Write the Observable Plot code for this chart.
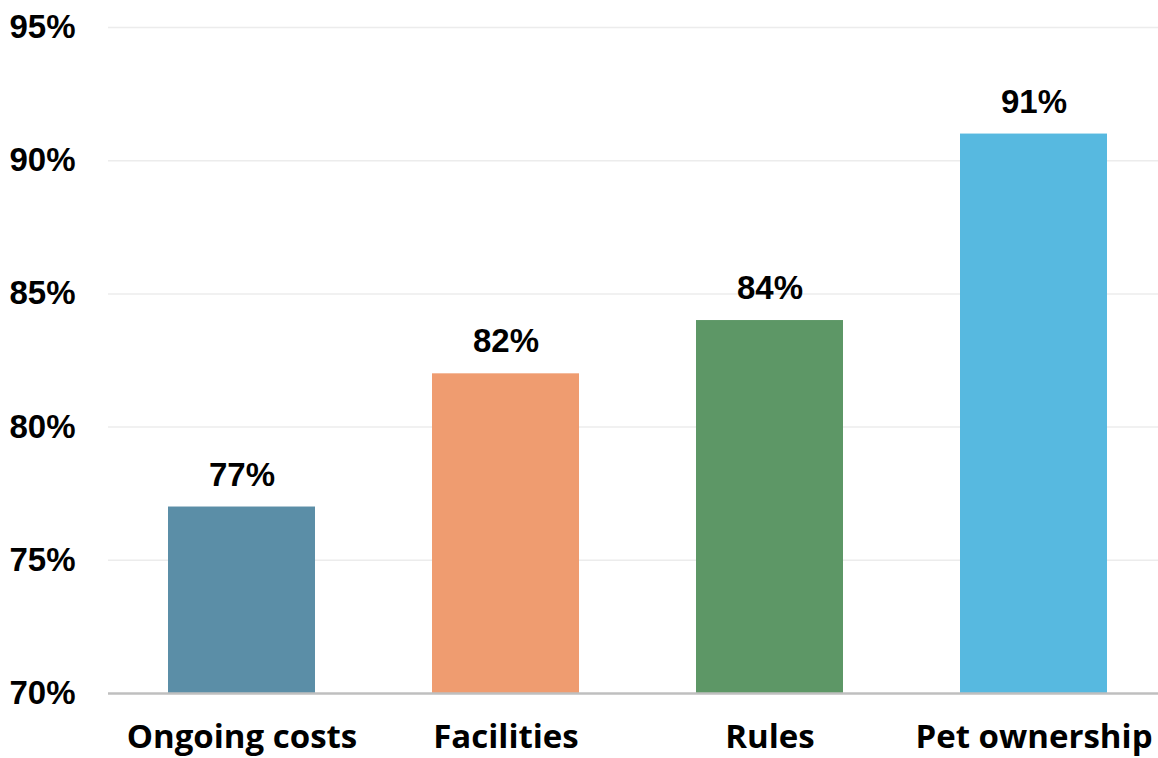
<!DOCTYPE html>
<html>
<head>
<meta charset="utf-8">
<script src="https://cdn.jsdelivr.net/npm/d3@7"></script>
<script src="https://cdn.jsdelivr.net/npm/@observablehq/plot@0.6"></script>
<style>
  html, body { margin: 0; padding: 0; background: #fff; }
  #chart svg { display: block; }
</style>
</head>
<body>
<div id="chart"></div>
<script>
const categories = ["Ongoing costs", "Facilities", "Rules", "Pet ownership"];
const values = [77, 82, 84, 91];
const colors = ["#5b8ea7", "#ef9c70", "#5d9766", "#57b9e0"];
const yTicks = [70, 75, 80, 85, 90, 95];

const data = categories.map((c, i) => ({category: c, value: values[i], color: colors[i]}));

const chart = Plot.plot({
  width: 1158,
  height: 758,
  marginLeft: 108,
  marginRight: 0,
  marginTop: 27,
  marginBottom: 65,
  style: {fontFamily: "Liberation Sans, Arial, sans-serif", fontWeight: "bold", fontSize: "33px", color: "#000", background: "#fff"},
  x: {domain: categories, range: [108, 1166], paddingInner: 0.444, paddingOuter: 0.222, label: null},
  y: {domain: [70, 95], label: null},
  marks: [
    Plot.ruleY(yTicks.filter(d => d > 70), {stroke: "#ececec", strokeWidth: 1.5}),
    Plot.barY(data, {x: "category", y1: 70, y2: "value", fill: "color"}),
    Plot.ruleY([70], {stroke: "#bfbfbf", strokeWidth: 2.5}),
    Plot.text(data, {x: "category", y: "value", text: d => d.value + "%", dy: -32, fontSize: 33, fontWeight: "bold", fill: "#000"}),
    Plot.axisY({ticks: yTicks, tickFormat: d => d + "%", tickSize: 0, tickPadding: 33, fontSize: 33, fontWeight: "bold", fill: "#000"}),
    Plot.axisX({tickSize: 0, tickPadding: 31, fontSize: 33, fontWeight: "bold", fill: "#000", fontFamily: "Open Sans, sans-serif"})
  ]
});
document.getElementById("chart").appendChild(chart);
</script>
</body>
</html>
